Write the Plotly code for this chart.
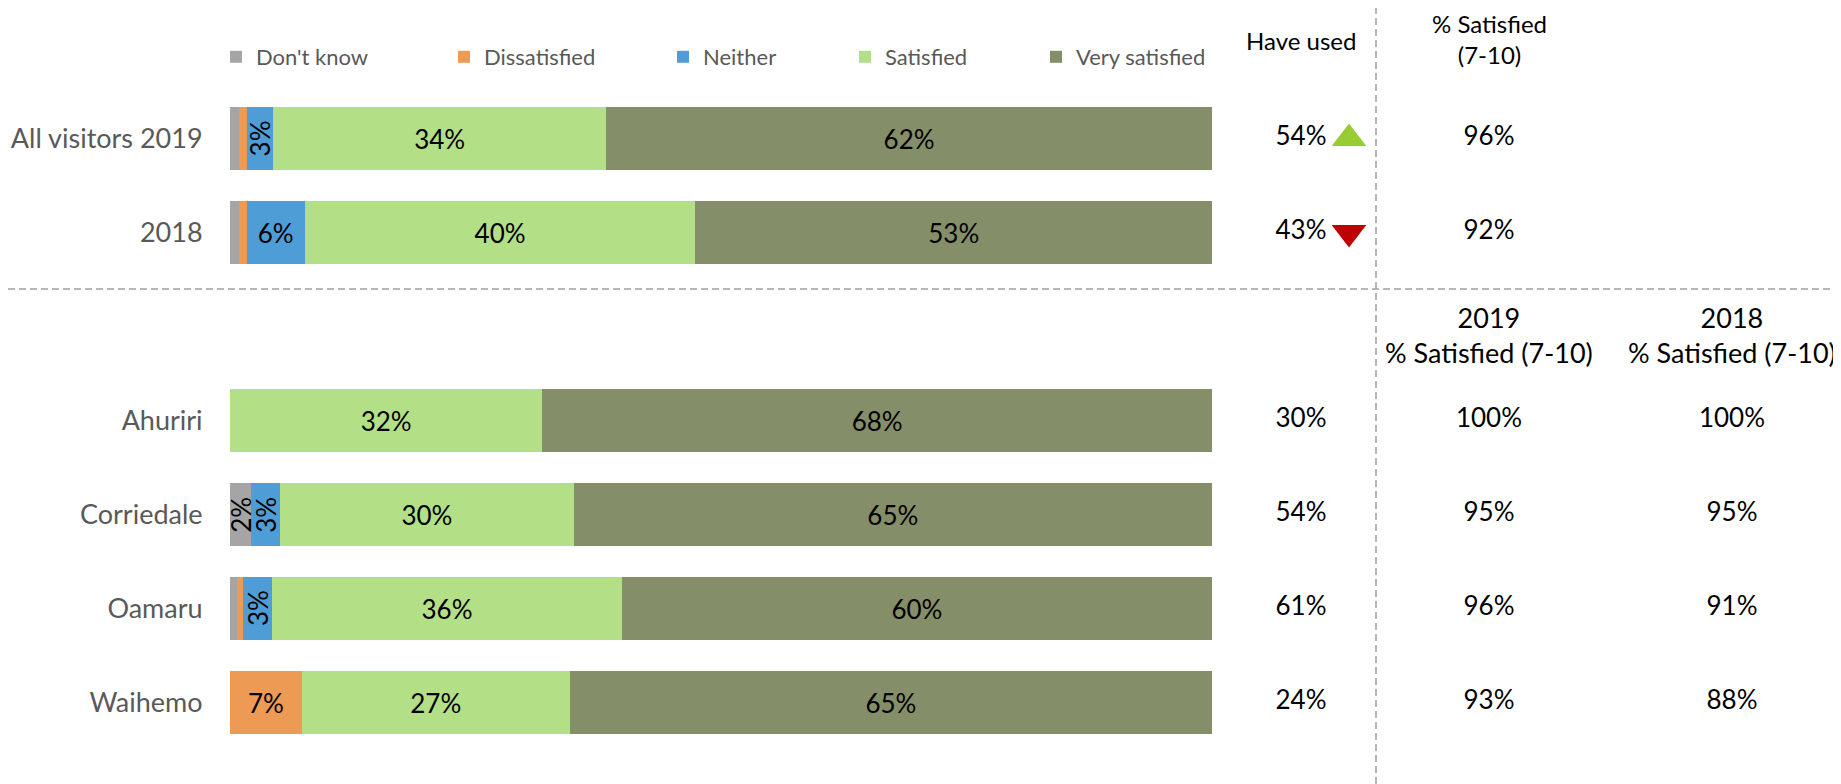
import plotly.graph_objects as go

# ---------------- data ----------------
categories = ["All visitors 2019", "2018", " ", "Ahuriri", "Corriedale", "Oamaru", "Waihemo"]
series_names = ["Don't know", "Dissatisfied", "Neither", "Satisfied", "Very satisfied"]
dont_know = [0.9, 0.9, None, 0.0, 2.1, 0.7, 0.0]
dissatisfied = [0.8, 0.8, None, 0.0, 0.0, 0.6, 7.3]
neither = [2.7, 5.9, None, 0.0, 3.0, 3.0, 0.0]
satisfied = [33.9, 39.8, None, 31.8, 29.9, 35.6, 27.3]
very_satisfied = [61.7, 52.6, None, 68.2, 65.0, 60.1, 65.4]

have_used = [54, 43, None, 30, 54, 61, 24]
have_used_change = ["up", "down", None, None, None, None, None]
sat_2019 = [96, 92, None, 100, 95, 96, 93]
sat_2018 = [None, None, None, 100, 95, 91, 88]

colors = ["#A5A5A5", "#ED9A54", "#4F9DD6", "#B3DF86", "#848F69"]

# ---------------- layout constants ----------------
OFF = 8                      # page body margin
W, H = 1841 - OFF, 784 - OFF  # figure size so that it fills the window
FONT = "Lato"


def px_x(p):
    return (p - OFF) / W


def px_y(p):
    return 1 - (p - OFF) / H


bar_left, bar_right = px_x(230), px_x(1212)
slot_px = 94.0
first_center_px = 138.5 - OFF
y_top = -first_center_px / slot_px
y_bot = y_top + H / slot_px

col_have_x = px_x(1301)
col_tri_x = px_x(1349)
col_2019_x = px_x(1489)
col_2018_x = px_x(1732)

fig = go.Figure()

all_series = [dont_know, dissatisfied, neither, satisfied, very_satisfied]
legend_ids = ["legend", "legend2", "legend3", "legend4", "legend5"]
legend_square_px = [230, 458, 677, 859, 1050]

annotations = []
cum = [0.0] * len(categories)
for name, vals, col, lid in zip(series_names, all_series, colors, legend_ids):
    texts = []
    for i, v in enumerate(vals):
        if v is None:
            texts.append("")
            continue
        if v >= 4:
            texts.append(f"{round(v)}%")
        else:
            texts.append("")
            if v >= 1.5:
                annotations.append(dict(
                    x=cum[i] + v / 2, y=categories[i], xref="x", yref="y",
                    text=f"{round(v)}%", textangle=-90, showarrow=False,
                    font=dict(family=FONT, size=26, color="#000000"),
                ))
        cum[i] += v
    fig.add_trace(go.Bar(
        name=name, y=categories, x=vals, orientation="h",
        marker=dict(color=col, line=dict(width=0)),
        text=texts, textposition="inside", insidetextanchor="middle",
        textangle=0, textfont=dict(family=FONT, size=26, color="#000000"),
        legend=lid, hoverinfo="skip",
    ))

# right-hand columns
def fmt(arr):
    return [f"{v}%" if v is not None else "" for v in arr]

for xpos, arr in [(col_have_x, have_used), (col_2019_x, sat_2019), (col_2018_x, sat_2018)]:
    fig.add_trace(go.Scatter(
        x=[xpos] * len(categories), y=categories, mode="text", text=fmt(arr),
        textfont=dict(family=FONT, size=26, color="#000000"), xaxis="x2", yaxis="y",
        showlegend=False, hoverinfo="skip"))

up_y = [c for c, ch in zip(categories, have_used_change) if ch == "up"]
down_y = [c for c, ch in zip(categories, have_used_change) if ch == "down"]
fig.add_trace(go.Scatter(
    x=[col_tri_x] * len(up_y), y=up_y, mode="markers",
    marker=dict(symbol="triangle-up", size=30, color="#99CC33", line=dict(width=0)),
    xaxis="x2", yaxis="y", showlegend=False, hoverinfo="skip"))
fig.add_trace(go.Scatter(
    x=[col_tri_x] * len(down_y), y=down_y, mode="markers",
    marker=dict(symbol="triangle-down", size=30, color="#C00000", line=dict(width=0)),
    xaxis="x2", yaxis="y", showlegend=False, hoverinfo="skip"))

# headers
hdr_font = dict(family=FONT, size=24, color="#000000")
hdr2_font = dict(family=FONT, size=27, color="#000000")
annotations += [
    dict(x=col_have_x, y=px_y(41), xref="paper", yref="paper", text="Have used",
         showarrow=False, font=hdr_font, xanchor="center", yanchor="middle"),
    dict(x=col_2019_x, y=px_y(39), xref="paper", yref="paper", text="% Satisfied<br>(7-10)",
         showarrow=False, font=hdr_font, xanchor="center", yanchor="middle"),
    dict(x=col_2019_x, y=px_y(335), xref="paper", yref="paper", text="2019<br>% Satisfied (7-10)",
         showarrow=False, font=hdr2_font, xanchor="center", yanchor="middle"),
    dict(x=col_2018_x, y=px_y(335), xref="paper", yref="paper", text="2018<br>% Satisfied (7-10)",
         showarrow=False, font=hdr2_font, xanchor="center", yanchor="middle"),
]

dash_line = dict(color="#A0A0A0", width=1.5, dash="7px,4px")
shapes = [
    dict(type="line", xref="paper", yref="paper", x0=px_x(1376), x1=px_x(1376), y0=0, y1=1,
         line=dash_line),
    dict(type="line", xref="paper", yref="paper", x0=0, x1=1, y0=px_y(289), y1=px_y(289),
         line=dash_line),
]

legend_common = dict(orientation="h", xanchor="left", yanchor="middle", y=px_y(57),
                     bgcolor="rgba(0,0,0,0)", borderwidth=0,
                     font=dict(family=FONT, size=22, color="#595959"))
legend_layout = {}
for lid, px in zip(legend_ids, legend_square_px):
    legend_layout[lid] = dict(legend_common, x=(px - 2 - OFF - 12) / W)

fig.update_layout(
    width=W, height=H,
    margin=dict(l=0, r=0, t=0, b=0),
    paper_bgcolor="white", plot_bgcolor="rgba(0,0,0,0)",
    barmode="stack", bargap=0.335,
    showlegend=True,
    uniformtext=dict(minsize=26, mode="show"),
    xaxis=dict(domain=[bar_left, bar_right], range=[0, 100], visible=False, fixedrange=True),
    xaxis2=dict(domain=[0, 1], range=[0, 1], visible=False, anchor="y", fixedrange=True),
    yaxis=dict(type="category", categoryorder="array", categoryarray=categories,
               range=[y_bot, y_top], domain=[0, 1], anchor="x",
               showgrid=False, zeroline=False, showline=False,
               ticks="outside", ticklen=21, tickcolor="rgba(0,0,0,0)",
               tickfont=dict(family=FONT, size=27, color="#595959"), automargin=False),
    annotations=annotations,
    shapes=shapes,
    font=dict(family=FONT),
    **legend_layout,
)

fig.write_html("out.html")
